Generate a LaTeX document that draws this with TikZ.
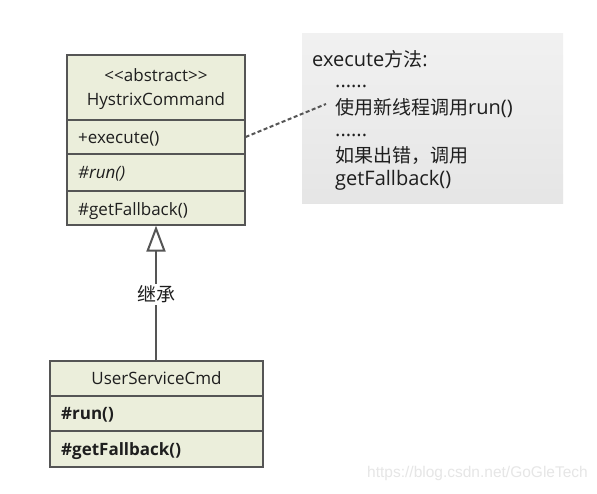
\documentclass[tikz,border=0pt]{standalone}
\usepackage{fontspec}
\setmainfont{Open Sans}
\newfontfamily\cjk{Noto Sans CJK SC}
\newfontfamily\wmfont{Liberation Sans}
\usetikzlibrary{arrows.meta}
\definecolor{umlfill}{HTML}{EBEEDB}
\definecolor{umlline}{HTML}{555555}
\definecolor{ink}{HTML}{1E1E1E}
\definecolor{wm}{HTML}{E6E6E6}
\begin{document}
\begin{tikzpicture}[x=1pt,y=-1pt,
  comp/.style={draw=umlline, fill=umlfill, line width=1.2pt, inner sep=0pt},
  boxtxt/.style={text=ink, inner sep=0pt, font=\fontsize{17}{20}\selectfont},
  notetxt/.style={text=ink, inner sep=0pt, anchor=base west, font=\fontsize{20}{24}\selectfont},
  conn/.style={draw=umlline, line width=2pt}
]
\fill[white] (0,0) rectangle (597,493);
\useasboundingbox (0,0) rectangle (597,493);

% note
\shade[top color=gray!11, bottom color=gray!20] (302,33) rectangle (563,203);
\node[notetxt] (n1) at (312,66) {execute{\cjk\fontsize{19}{22}\selectfont 方法}:};
\node[notetxt] (n2) at (335,87) {......};
\node[notetxt] (n3) at (335,114) {{\cjk\fontsize{19}{22}\selectfont 使用新线程调用}run()};
\node[notetxt] (n4) at (335,136) {......};
\node[notetxt] (n5) at (335,162) {{\cjk\fontsize{19}{22}\selectfont 如果出错，调用}};
\node[notetxt] (n6) at (335,185) {getFallback()};
\coordinate (nend) at (326,104);

% HystrixCommand
\node[comp, minimum width=178pt, minimum height=65pt] (hc) at (156,87.5) {};
\node[comp, minimum width=178pt, minimum height=34pt] (hcexec) at (156,137) {};
\node[comp, minimum width=178pt, minimum height=37pt] (hcrun) at (156,172.5) {};
\node[comp, minimum width=178pt, minimum height=34pt] (hcfb) at (156,208) {};
\node[boxtxt, anchor=base] (t1) at (156,81) {<{}<{}abstract>{}>};
\node[boxtxt, anchor=base] (t2) at (156,105) {HystrixCommand};
\node[boxtxt, anchor=base west] (t3) at (78,143) {+execute()};
\node[boxtxt, anchor=base west] (t4) at (78,178) {\itshape \#run()};
\node[boxtxt, anchor=base west] (t5) at (78,215) {\#getFallback()};

% UserServiceCmd
\node[comp, minimum width=213pt, minimum height=35pt] (us) at (156.5,378.5) {};
\node[comp, minimum width=213pt, minimum height=35pt] (usrun) at (156.5,413.5) {};
\node[comp, minimum width=213pt, minimum height=36pt] (usfb) at (156.5,449) {};
\node[boxtxt, anchor=base] (u1) at (156.5,384) {UserServiceCmd};
\node[boxtxt, anchor=base west] (u2) at (61,419) {\bfseries \#run()};
\node[boxtxt, anchor=base west] (u3) at (61,455) {\bfseries \#getFallback()};

% connectors
\draw[conn, -{Triangle[open, width=19pt, length=26pt, line width=2pt]}, fill=white]
  (us.north -| hcfb.south) -- (hcfb.south)
  node[pos=0.49, fill=white, text=ink, inner sep=2pt, font=\cjk\fontsize{19}{22}\selectfont] (lbl) {继承};
\draw[conn, dash pattern=on 4pt off 2.5pt] (hcexec.east) -- (nend);

% watermark
\node[text=wm, inner sep=0pt, anchor=base east, font=\wmfont\fontsize{15.5}{18}\selectfont] (wmk) at (588,477) {https://blog.csdn.net/GoGleTech};
\end{tikzpicture}
\end{document}
